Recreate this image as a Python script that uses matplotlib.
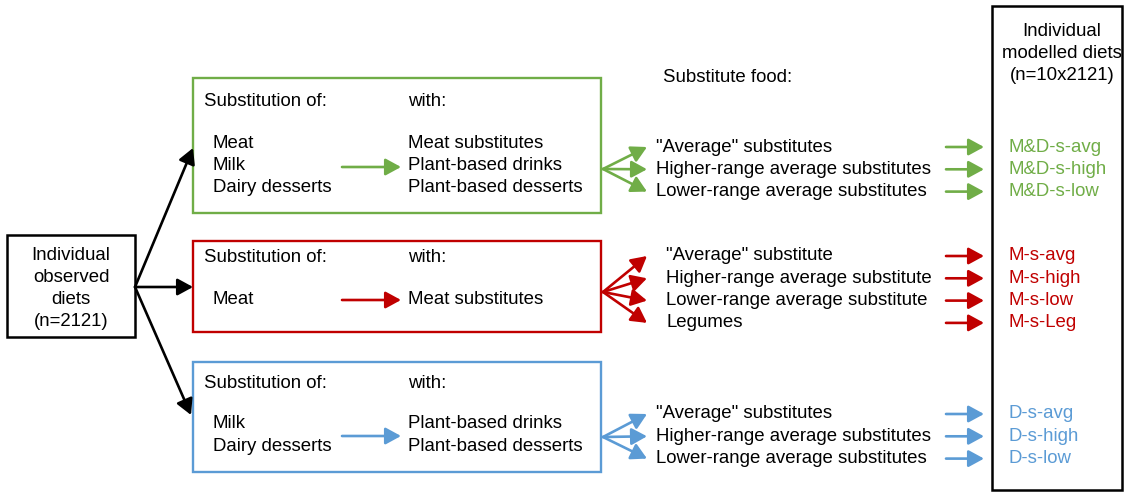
import matplotlib.pyplot as plt
from matplotlib.patches import Rectangle

plt.rcParams['font.family'] = ['Liberation Sans', 'DejaVu Sans']

GREEN = '#70AD47'
RED = '#C00000'
BLUE = '#5B9BD5'

source_lines = ["Individual", "observed", "diets", "(n=2121)"]
target_lines = ["Individual", "modelled diets", "(n=10x2121)"]

green_from = ["Meat", "Milk", "Dairy desserts"]
green_with = ["Meat substitutes", "Plant-based drinks", "Plant-based desserts"]
green_subs = ['"Average" substitutes', "Higher-range average substitutes",
              "Lower-range average substitutes"]
green_out = ["M&D-s-avg", "M&D-s-high", "M&D-s-low"]

red_from = ["Meat"]
red_with = ["Meat substitutes"]
red_subs = ['"Average" substitute', "Higher-range average substitute",
            "Lower-range average substitute", "Legumes"]
red_out = ["M-s-avg", "M-s-high", "M-s-low", "M-s-Leg"]

blue_from = ["Milk", "Dairy desserts"]
blue_with = ["Plant-based drinks", "Plant-based desserts"]
blue_subs = ['"Average" substitutes', "Higher-range average substitutes",
             "Lower-range average substitutes"]
blue_out = ["D-s-avg", "D-s-high", "D-s-low"]

FS = 13.4
HEAD = '-|>,head_length=0.55,head_width=0.3'


def arrow(ax, x0, y0, x1, y1, color, lw=1.9, ms=17):
    ax.annotate("", xy=(x1, y1), xytext=(x0, y0),
                arrowprops=dict(arrowstyle=HEAD, color=color, lw=lw,
                                mutation_scale=ms, shrinkA=0, shrinkB=0))


def group(ax, top, bottom, color, froms, withs, subs, outs, row0, title_y,
          from_y, mid_y, fan_y, sub_x, step=22.3):
    ax.add_patch(Rectangle((193, top), 408, bottom - top, fill=False,
                           edgecolor=color, lw=1.7))
    ax.text(204, title_y, "Substitution of:", fontsize=FS, va='center')
    ax.text(408, title_y, "with:", fontsize=FS, va='center')
    for i, t in enumerate(froms):
        ax.text(213, from_y + i * step, t, fontsize=FS, va='center')
    for i, t in enumerate(withs):
        ax.text(408, from_y + i * step, t, fontsize=FS, va='center')
    arrow(ax, 342, mid_y, 401, mid_y, color)
    for i, (s, o) in enumerate(zip(subs, outs)):
        y = row0 + i * step
        arrow(ax, 603, fan_y, 647, y, color)
        ax.text(sub_x, y, s, fontsize=FS, va='center')
        arrow(ax, 946, y, 984, y, color)
        ax.text(1009, y, o, fontsize=FS, va='center', color=color)


fig = plt.figure(figsize=(11.28, 4.92), dpi=100)
ax = fig.add_axes([0, 0, 1, 1])
ax.set_xlim(0, 1128)
ax.set_ylim(492, 0)
ax.axis('off')

# left and right boxes
ax.add_patch(Rectangle((7, 235), 128, 102, fill=False, edgecolor='black', lw=1.8))
for i, t in enumerate(source_lines):
    ax.text(71, 255 + i * 22.3, t, fontsize=FS, ha='center', va='center')
ax.add_patch(Rectangle((992, 6), 130, 484, fill=False, edgecolor='black', lw=1.8))
for i, t in enumerate(target_lines):
    ax.text(1062, 31 + i * 22, t, fontsize=FS, ha='center', va='center')

ax.text(663, 78, "Substitute food:", fontsize=FS, va='center')

# arrows from observed diets
arrow(ax, 135, 287, 193, 148, 'black')
arrow(ax, 135, 287, 193, 287, 'black')
arrow(ax, 135, 287, 191, 415, 'black')

group(ax, 78, 213, GREEN, green_from, green_with, green_subs, green_out,
      147, 102, 143, 167, 169, 656)
group(ax, 241, 332, RED, red_from, red_with, red_subs, red_out,
      256, 258, 300, 300, 292, 666)
group(ax, 362, 472, BLUE, blue_from, blue_with, blue_subs, blue_out,
      414, 383, 424, 436, 437, 656)

fig.savefig("out.png", dpi=100)
